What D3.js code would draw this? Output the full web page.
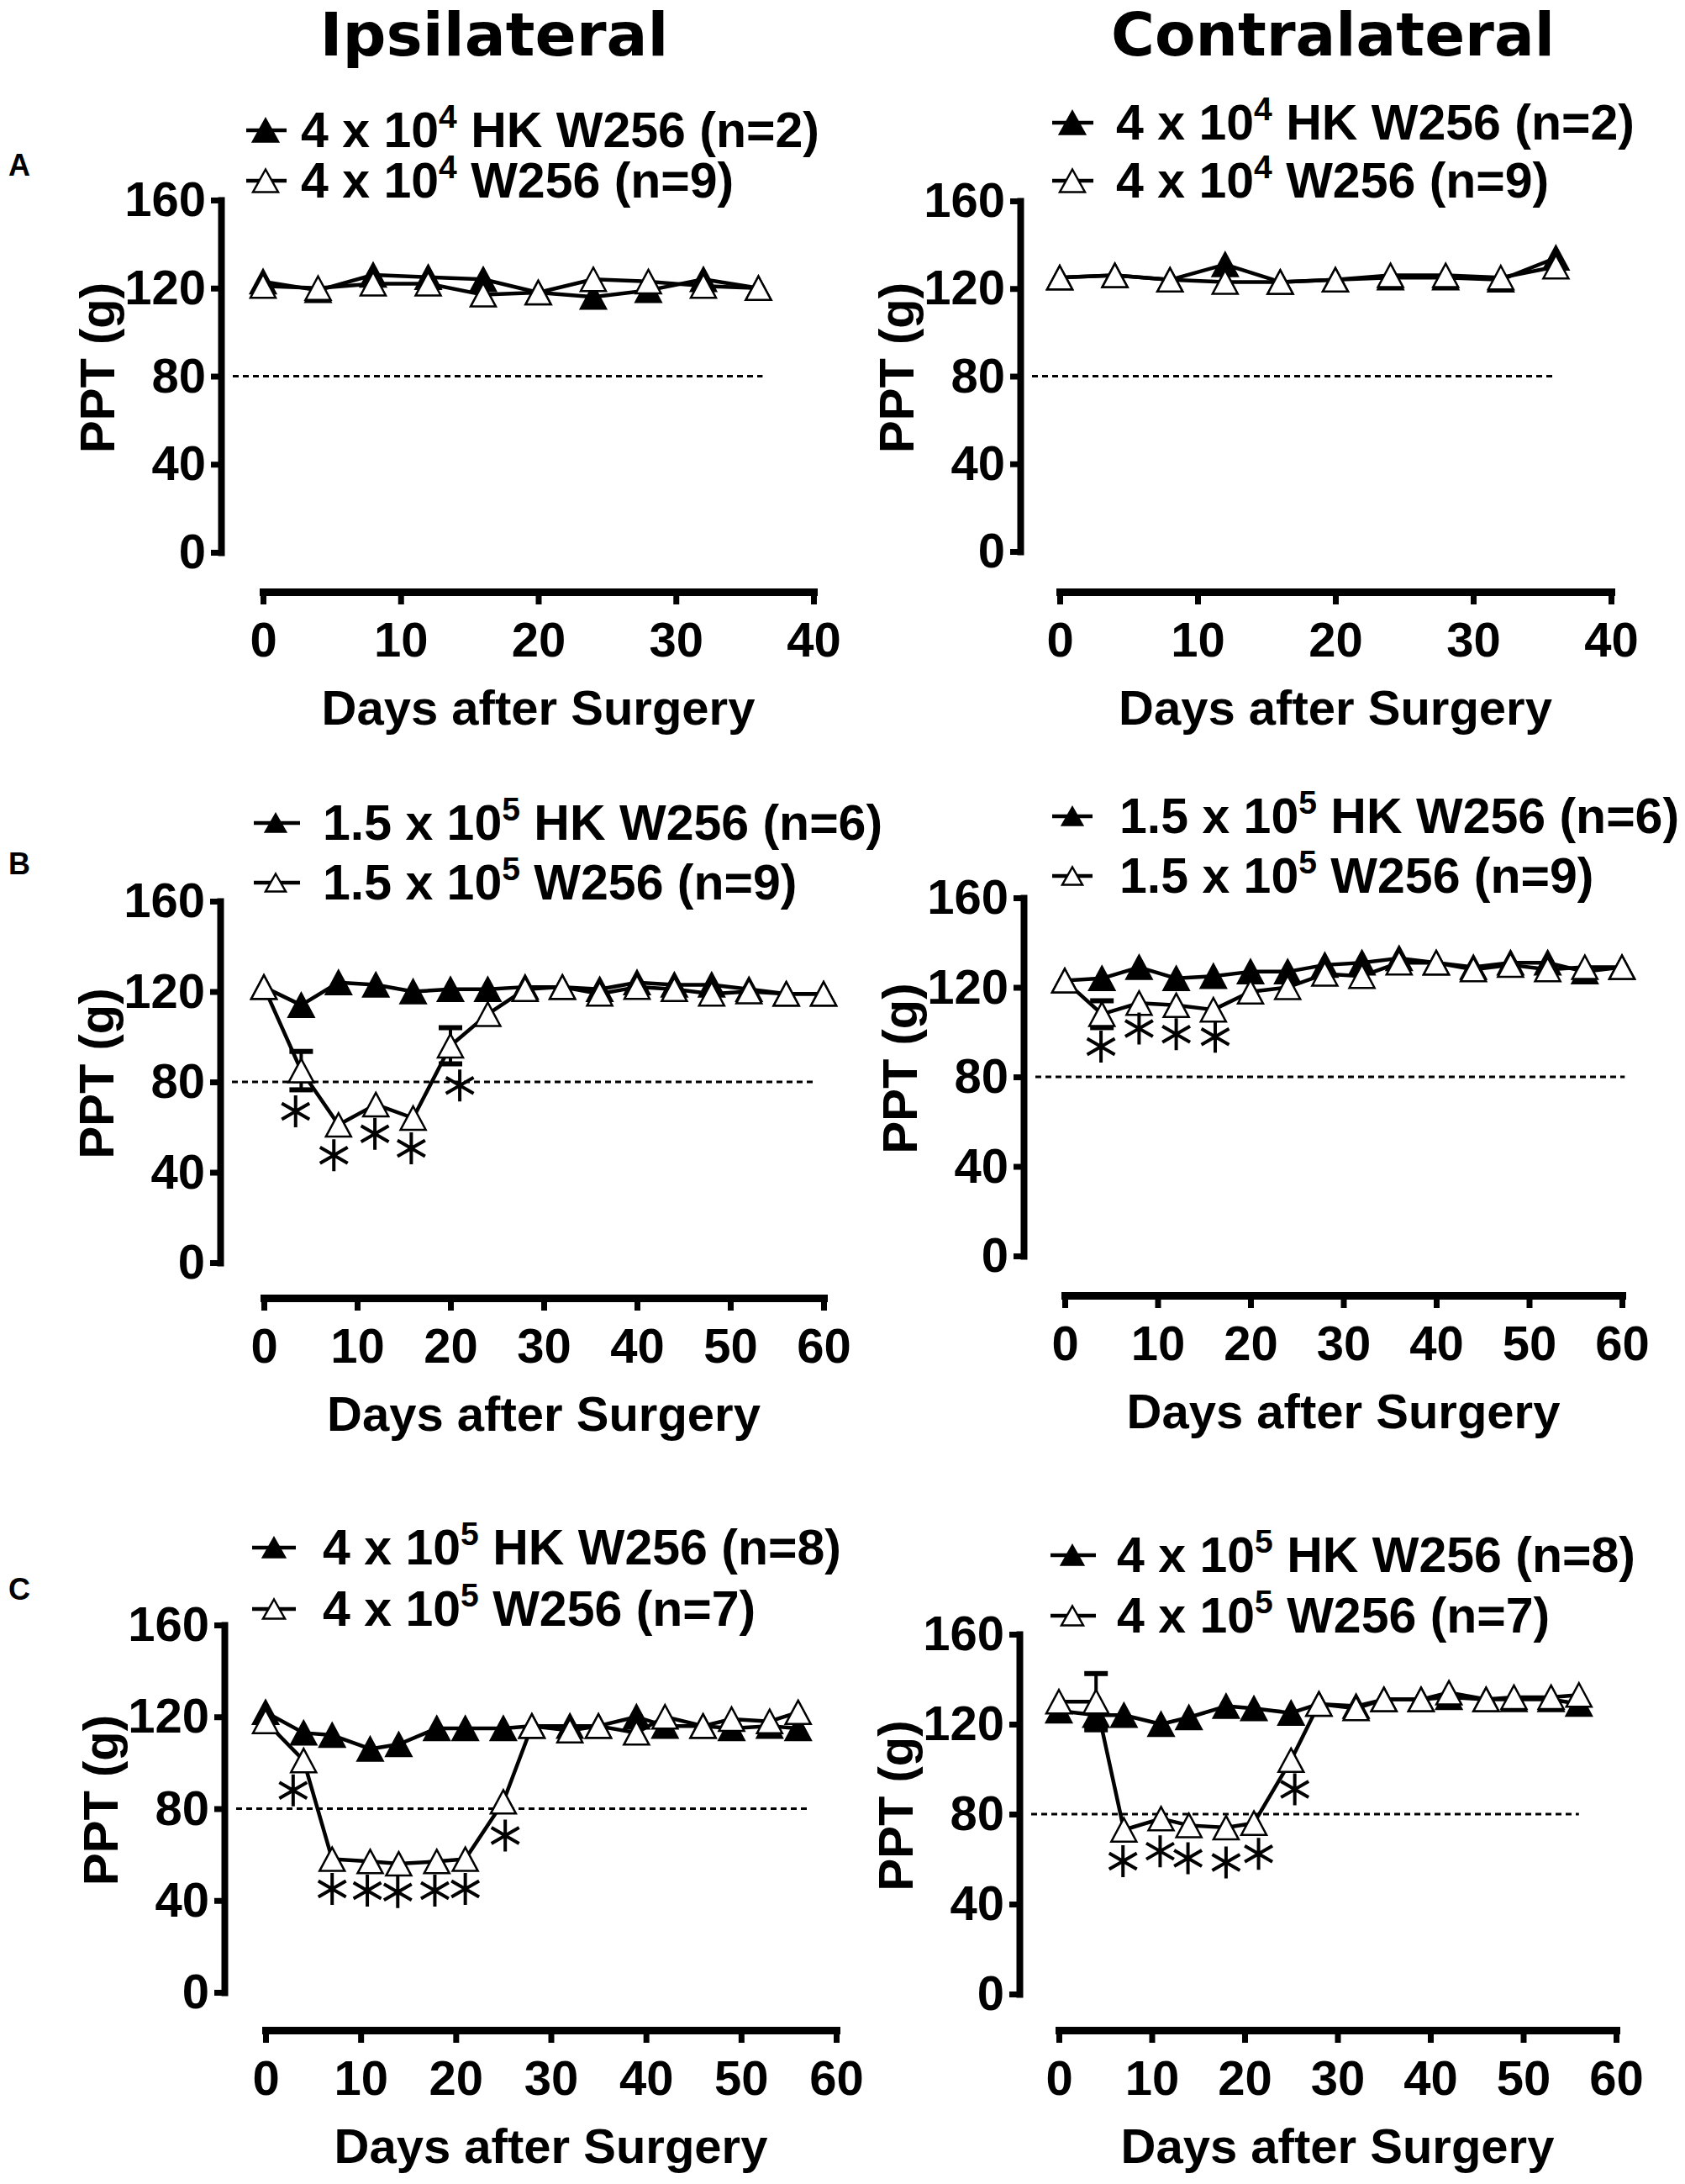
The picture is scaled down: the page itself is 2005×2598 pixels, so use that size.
<!DOCTYPE html>
<html lang="en">
<head>
<meta charset="UTF-8">
<title>PPT after surgery - Ipsilateral / Contralateral</title>
<script src="https://d3js.org/d3.v7.min.js"></script>
<style>
    body { margin: 0; background: #fff; }
    text { font-family: "Liberation Sans", Arial, sans-serif; font-weight: bold; fill: #000; }
</style>
</head>
<body>
<div id="chart"></div>
<script>
    // ---- data ----
    const yTicks = [0, 40, 80, 120, 160];
    const xTicksA = [0, 10, 20, 30, 40];
    const xTicksBC = [0, 10, 20, 30, 40, 50, 60];

    const daysA = [0, 4, 8, 12, 16, 20, 24, 28, 32, 36];
    const daysB = [0, 4, 8, 12, 16, 20, 24, 28, 32, 36, 40, 44, 48, 52, 56, 60];
    const daysC = [0, 4, 7, 11, 14, 18, 21, 25, 28, 32, 35, 39, 42, 46, 49, 53, 56];

    const ipsiA_HK   = [123, 119, 126, 125, 124, 118, 116, 119, 124, 120];
    const ipsiA_W256 = [121, 120, 122, 122, 117, 118, 124, 123, 121, 120];
    const contraA_HK   = [125, 126, 124, 131, 123, 124, 125, 125, 124, 134];
    const contraA_W256 = [125, 126, 124, 123, 123, 124, 126, 126, 125, 130];

    const ipsiB_HK   = [122, 114, 124, 123, 120, 121, 121, 122, 122, 121, 124, 123, 123, 121, 119, 119];
    const ipsiB_W256 = [122, 85, 61, 70, 64, 96, 110, 121, 122, 119, 122, 121, 119, 120, 119, 119];
    const contraB_HK   = [123, 124, 129, 124, 125, 127, 127, 130, 131, 133, 131, 129, 131, 131, 127, 129];
    const contraB_W256 = [123, 108, 113, 112, 110, 118, 120, 126, 125, 131, 131, 128, 130, 128, 129, 129];

    const ipsiC_HK   = [122, 113, 112, 106, 108, 115, 115, 115, 116, 116, 116, 120, 116, 116, 115, 116, 115];
    const ipsiC_W256 = [118, 101, 58, 57, 56, 57, 58, 83, 116, 114, 116, 113, 120, 116, 119, 118, 122];
    const contraC_HK   = [126, 124, 124, 120, 123, 128, 127, 125, 129, 128, 131, 131, 132, 131, 131, 131, 129];
    const contraC_W256 = [130, 130, 73, 78, 75, 74, 76, 104, 129, 127, 131, 131, 134, 131, 132, 132, 133];

    // SEM shown where it sticks out of the markers: [day, sem]
    const ipsiB_err = [[4, 8.5], [20, 8]];
    const contraB_err = [[4, 6]];
    const contraC_err = [[4, 12.5]];

    // significance asterisks: [day, PPT]
    const ipsiB_stars = [[3.4, 67], [7.5, 47.5], [11.9, 57], [15.8, 50.6], [21, 78.4]];
    const contraB_stars = [[3.9, 93.5], [8, 101.6], [12, 99.1], [16.2, 97.9]];
    const ipsiC_stars = [[2.9, 88], [7, 45], [10.7, 44.3], [13.9, 43.7], [17.8, 44.3], [21, 45], [25.2, 68.3]];
    const contraC_stars = [[6.9, 59.1], [10.9, 63.5], [13.9, 60.4], [18, 58.5], [21.5, 62.3], [25.4, 91]];

    // legend texts: [before superscript, superscript, after]
    const legendA = [["4 x 10", "4", " HK W256 (n=2)"], ["4 x 10", "4", " W256 (n=9)"]];
    const legendB = [["1.5 x 10", "5", " HK W256 (n=6)"], ["1.5 x 10", "5", " W256 (n=9)"]];
    const legendC = [["4 x 10", "5", " HK W256 (n=8)"], ["4 x 10", "5", " W256 (n=7)"]];

    const columnTitles = ["Ipsilateral", "Contralateral"];
    const panelLetters = ["A", "B", "C"];

    // ---- layout ----
    const width = 2005, height = 2598;
    const svg = d3.select("#chart").append("svg")
        .attr("width", width)
        .attr("height", height)
        .attr("viewBox", `0 0 ${width} ${height}`);

    const panels = [
        {days: daysA, hk: ipsiA_HK, w: ipsiA_W256, err: [], stars: [], xMax: 40, xTicks: xTicksA, legend: legendA,
         axisX: 263, yTop: 238, yBot: 657, axisY: 704, x0: 313, x1: 968, refEnd: 36.3,
         leg: {base: [175, 235], mx: 316, lx: [293, 341], tx: 358, mw: 30, mh: 27}},
        {days: daysA, hk: contraA_HK, w: contraA_W256, err: [], stars: [], xMax: 40, xTicks: xTicksA, legend: legendA,
         axisX: 1214, yTop: 239, yBot: 656, axisY: 704, x0: 1261, x1: 1917, refEnd: 36,
         leg: {base: [166, 235], mx: 1276, lx: [1252, 1301], tx: 1328, mw: 30, mh: 27}},
        {days: daysB, hk: ipsiB_HK, w: ipsiB_W256, err: ipsiB_err, stars: ipsiB_stars, xMax: 60, xTicks: xTicksBC, legend: legendB,
         axisX: 262, yTop: 1072, yBot: 1502, axisY: 1544, x0: 314, x1: 980, refEnd: 59,
         leg: {base: [999, 1070], mx: 328, lx: [302, 357], tx: 384, mw: 24, mh: 21}},
        {days: daysB, hk: contraB_HK, w: contraB_W256, err: contraB_err, stars: contraB_stars, xMax: 60, xTicks: xTicksBC, legend: legendB,
         axisX: 1218, yTop: 1068, yBot: 1494, axisY: 1541, x0: 1267, x1: 1930, refEnd: 60.3,
         leg: {base: [991, 1062], mx: 1276, lx: [1252, 1300], tx: 1332, mw: 24, mh: 21}},
        {days: daysC, hk: ipsiC_HK, w: ipsiC_W256, err: [], stars: ipsiC_stars, xMax: 60, xTicks: xTicksBC, legend: legendC,
         axisX: 267, yTop: 1933, yBot: 2370, axisY: 2415, x0: 316, x1: 995, refEnd: 57,
         leg: {base: [1861, 1934], mx: 326, lx: [300, 352], tx: 384, mw: 26, mh: 23}},
        {days: daysC, hk: contraC_HK, w: contraC_W256, err: contraC_err, stars: contraC_stars, xMax: 60, xTicks: xTicksBC, legend: legendC,
         axisX: 1213, yTop: 1944, yBot: 2372, axisY: 2415, x0: 1260, x1: 1923, refEnd: 56,
         leg: {base: [1870, 1942], mx: 1276, lx: [1250, 1304], tx: 1329, mw: 26, mh: 23}}
    ];

    const FS = 58;     // tick / axis label font size
    const LEG_FS = 59; // legend font size

    // triangle centred on its bounding box
    const tri = (w, h) => `M0,${-h / 2}L${w / 2},${h / 2}L${-w / 2},${h / 2}Z`;
    // six-armed asterisk
    const asterisk = r => [90, 30, 150].map(a => {
        const dx = r * Math.cos(a * Math.PI / 180), dy = r * Math.sin(a * Math.PI / 180);
        return `M${-dx},${-dy}L${dx},${dy}`;
    }).join("");

    function drawPanel(p) {
        const x = d3.scaleLinear().domain([0, p.xMax]).range([p.x0, p.x1]);
        const y = d3.scaleLinear().domain([0, 160]).range([p.yBot, p.yTop]);
        const g = svg.append("g");

        // y axis
        const ya = g.append("g")
            .attr("transform", `translate(${p.axisX},0)`)
            .call(d3.axisLeft(y).tickValues(yTicks).tickSize(12).tickSizeOuter(0).tickPadding(6));
        ya.attr("font-size", FS).attr("font-family", null);
        ya.select(".domain").attr("stroke-width", 8).attr("stroke-linecap", "square");
        ya.selectAll(".tick line").attr("stroke-width", 7);

        // x axis, detached below the plot
        const xa = g.append("g")
            .attr("transform", `translate(0,${p.axisY})`)
            .call(d3.axisBottom(x).tickValues(p.xTicks).tickSize(15).tickSizeOuter(0).tickPadding(21));
        xa.attr("font-size", FS).attr("font-family", null);
        xa.select(".domain").attr("stroke-width", 9).attr("stroke-linecap", "square");
        xa.selectAll(".tick line").attr("stroke-width", 7);

        // axis titles
        g.append("text")
            .attr("x", (p.x0 + p.x1) / 2)
            .attr("y", p.axisY + 158)
            .attr("text-anchor", "middle")
            .attr("font-size", FS)
            .text("Days after Surgery");

        g.append("text")
            .attr("transform", `translate(${p.axisX - 127},${(p.yTop + p.yBot) / 2 - 10}) rotate(-90)`)
            .attr("text-anchor", "middle")
            .attr("font-size", FS)
            .text("PPT (g)");

        // 80 g reference
        g.append("line")
            .attr("x1", p.axisX + 14).attr("x2", x(p.refEnd))
            .attr("y1", y(80)).attr("y2", y(80))
            .attr("stroke", "#000").attr("stroke-width", 3)
            .attr("stroke-dasharray", "7,5");

        const line = d3.line().x(d => x(d[0])).y(d => y(d[1]));
        const hkPts = d3.zip(p.days, p.hk);
        const wPts = d3.zip(p.days, p.w);

        // error bars (behind markers)
        p.err.forEach(([day, sem]) => {
            const m = p.w[p.days.indexOf(day)];
            const cx = x(day);
            g.append("line").attr("x1", cx).attr("x2", cx)
                .attr("y1", y(m - sem)).attr("y2", y(m + sem))
                .attr("stroke", "#000").attr("stroke-width", 4);
            [m - sem, m + sem].forEach(v => {
                g.append("line").attr("x1", cx - 14).attr("x2", cx + 14)
                    .attr("y1", y(v)).attr("y2", y(v))
                    .attr("stroke", "#000").attr("stroke-width", 6);
            });
        });

        g.append("path").datum(hkPts)
            .attr("fill", "none").attr("stroke", "#000")
            .attr("stroke-width", 4.5).attr("stroke-linejoin", "round")
            .attr("d", line);
        g.selectAll(".hk").data(hkPts).join("path")
            .attr("transform", d => `translate(${x(d[0])},${y(d[1])})`)
            .attr("d", tri(30, 28))
            .attr("fill", "#000").attr("stroke", "#000").attr("stroke-width", 2.5);

        g.append("path").datum(wPts)
            .attr("fill", "none").attr("stroke", "#000")
            .attr("stroke-width", 4.5).attr("stroke-linejoin", "round")
            .attr("d", line);
        g.selectAll(".w").data(wPts).join("path")
            .attr("transform", d => `translate(${x(d[0])},${y(d[1])})`)
            .attr("d", tri(30, 28))
            .attr("fill", "#fff").attr("stroke", "#000").attr("stroke-width", 2.5);

        // asterisks
        g.selectAll(".star").data(p.stars).join("path")
            .attr("transform", d => `translate(${x(d[0])},${y(d[1])})`)
            .attr("d", asterisk(19))
            .attr("stroke", "#000").attr("stroke-width", 4).attr("fill", "none");

        // legend
        p.legend.forEach((lab, i) => {
            const base = p.leg.base[i], cy = base - 20;
            g.append("line")
                .attr("x1", p.leg.lx[0]).attr("x2", p.leg.lx[1])
                .attr("y1", cy).attr("y2", cy)
                .attr("stroke", "#000").attr("stroke-width", 4.5);
            g.append("path")
                .attr("transform", `translate(${p.leg.mx},${cy})`)
                .attr("d", tri(p.leg.mw, p.leg.mh))
                .attr("fill", i === 0 ? "#000" : "#fff")
                .attr("stroke", "#000").attr("stroke-width", 2.5);
            const t = g.append("text")
                .attr("x", p.leg.tx).attr("y", base)
                .attr("font-size", LEG_FS);
            t.append("tspan").text(lab[0]);
            t.append("tspan").attr("font-size", 39).attr("dy", -23).text(lab[1]);
            t.append("tspan").attr("dy", 23).text(lab[2]);
        });
    }

    panels.forEach(drawPanel);

    // column titles
    const titlePos = [[588, 415], [1586, 528]];
    columnTitles.forEach((t, i) => {
        svg.append("text")
            .attr("x", titlePos[i][0])
            .attr("y", 66)
            .attr("text-anchor", "middle")
            .attr("font-size", 71)
            .attr("textLength", titlePos[i][1])
            .attr("lengthAdjust", "spacingAndGlyphs")
            .style("font-family", "'DejaVu Sans', Verdana, sans-serif")
            .text(t);
    });

    // panel letters
    const letterY = [209, 1040, 1903];
    panelLetters.forEach((l, i) => {
        svg.append("text")
            .attr("x", 10)
            .attr("y", letterY[i])
            .attr("font-size", 36)
            .text(l);
    });
</script>
</body>
</html>
